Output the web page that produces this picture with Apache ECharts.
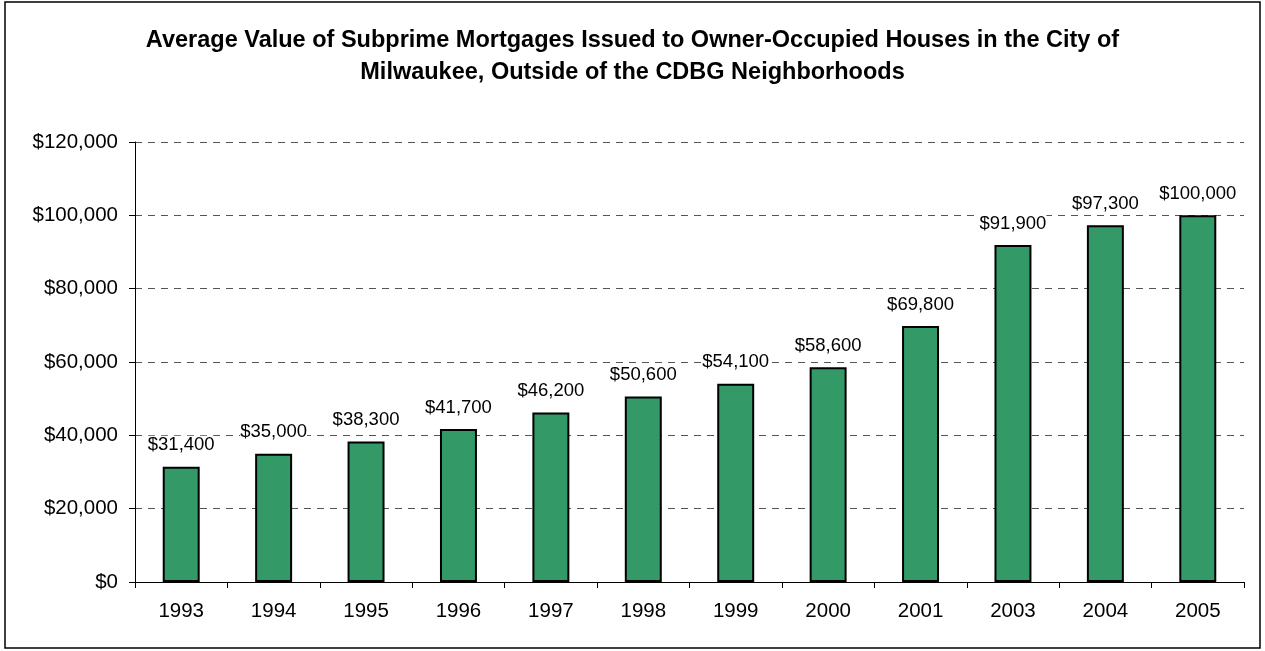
<!DOCTYPE html>
<html>
<head>
<meta charset="utf-8">
<script src="https://cdn.jsdelivr.net/npm/echarts@6/dist/echarts.min.js"></script>
<style>
  html, body { margin: 0; padding: 0; background: #fff; }
  #chart { width: 1265px; height: 651px; }
</style>
</head>
<body>
<div id="chart"></div>
<script>
  const years = ['1993', '1994', '1995', '1996', '1997', '1998', '1999', '2000', '2001', '2003', '2004', '2005']
  const avgValues = [31400, 35000, 38300, 41700, 46200, 50600, 54100, 58600, 69800, 91900, 97300, 100000]

  const chart = echarts.init(document.getElementById('chart'))

  function money(v) {
    return '$' + v.toLocaleString('en-US')
  }

  const option = {
    backgroundColor: '#fff',
    animation: false,
    title: {
      text: 'Average Value of Subprime Mortgages Issued to Owner-Occupied Houses in the City of\nMilwaukee, Outside of the CDBG Neighborhoods',
      left: 'center',
      top: 20,
      textStyle: {
        fontFamily: 'Liberation Sans, Arial, sans-serif',
        fontSize: 23.5,
        fontWeight: 'bold',
        color: '#000',
        lineHeight: 32
      }
    },
    graphic: [{
      type: 'rect',
      shape: { x: 5, y: 2, width: 1255, height: 646 },
      style: { fill: 'none', stroke: '#000', lineWidth: 1.5 },
      silent: true
    }],
    grid: {
      left: 135,
      right: 21,
      top: 142,
      bottom: 69,
      containLabel: false
    },
    xAxis: {
      type: 'category',
      data: years,
      boundaryGap: true,
      axisLine: { lineStyle: { color: '#000', width: 1 } },
      axisTick: { show: true, alignWithLabel: false, length: 6, lineStyle: { color: '#000' } },
      axisLabel: {
        fontFamily: 'Liberation Sans, Arial, sans-serif',
        fontSize: 20.5,
        color: '#000',
        margin: 19
      }
    },
    yAxis: {
      type: 'value',
      min: 0,
      max: 120000,
      interval: 20000,
      axisLine: { show: true, lineStyle: { color: '#000', width: 1 } },
      axisTick: { show: true, length: 6, lineStyle: { color: '#000' } },
      axisLabel: {
        fontFamily: 'Liberation Sans, Arial, sans-serif',
        fontSize: 20.5,
        color: '#000',
        margin: 17,
        formatter: money
      },
      splitLine: {
        show: true,
        lineStyle: { color: '#555', type: [7, 6], width: 1 }
      }
    },
    series: [{
      type: 'bar',
      data: avgValues,
      barWidth: '40%',
      itemStyle: {
        color: '#339966',
        borderColor: '#000',
        borderWidth: 2
      },
      label: {
        show: true,
        position: 'top',
        distance: 12,
        fontFamily: 'Liberation Sans, Arial, sans-serif',
        fontSize: 18.5,
        color: '#000',
        backgroundColor: '#fff',
        formatter: function (p) { return money(p.value) }
      }
    }]
  }

  chart.setOption(option)
</script>
</body>
</html>
